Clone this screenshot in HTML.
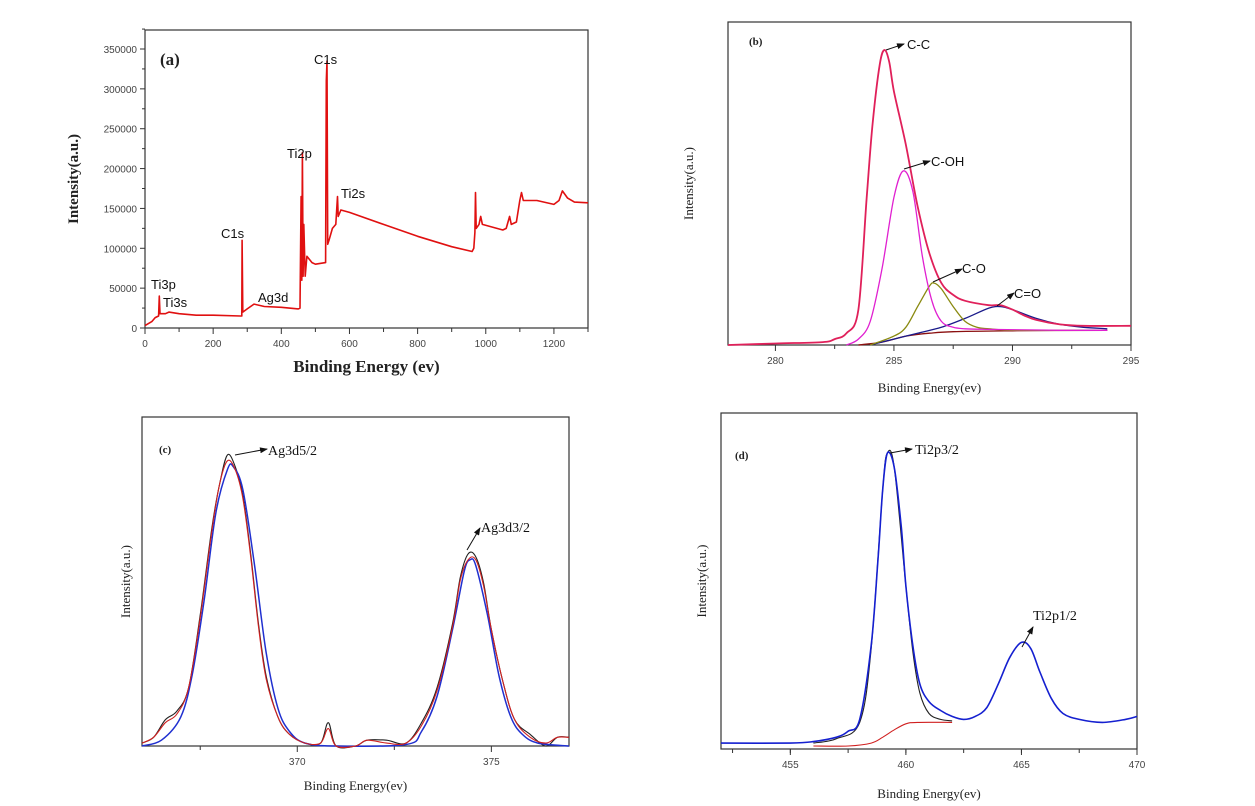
<!DOCTYPE html>
<html><head><meta charset="utf-8">
<style>
body{margin:0;background:#fff;}
svg{display:block;}
.tk{font-family:"Liberation Sans",sans-serif;font-size:10px;fill:#444;}
.tt{font-family:"Liberation Serif",serif;font-size:13px;fill:#222;}
.an{font-family:"Liberation Sans",sans-serif;font-size:13px;fill:#111;}
.anS{font-family:"Liberation Serif",serif;font-size:14px;fill:#111;}
</style></head>
<body>
<svg id="fig" width="1255" height="806" viewBox="0 0 1255 806">
<defs><marker id="ar" markerWidth="8" markerHeight="6" refX="7" refY="3" orient="auto"><path d="M0,0 L8,3 L0,6 z" fill="#111"/></marker></defs>
</svg>
<script>
// ---- Panel (a) survey data ----
const aEnergy = [0,20,30,40,42,44,60,70,100,150,200,280,284,285,287,300,320,350,400,450,455,458,460,462,464,466,470,475,490,500,530,532,534,536,540,550,560,565,567,575,600,700,800,900,960,965,968,970,972,980,985,990,1050,1060,1070,1075,1090,1100,1105,1110,1150,1200,1215,1225,1240,1260,1300];
const aIntensity = [3000,8000,13000,15000,40000,18000,18000,20000,18000,16000,16000,15000,15000,110000,20000,24000,30000,27000,26000,24000,25000,165000,60000,220000,65000,130000,65000,90000,82000,80000,82000,310000,335000,105000,110000,125000,130000,165000,140000,148000,145000,130000,115000,102000,96000,100000,120000,170000,125000,130000,140000,130000,123000,125000,140000,130000,133000,160000,170000,160000,160000,155000,160000,172000,163000,158000,157000];
const aXTicks = [0,200,400,600,800,1000,1200];
const aYTicks = [0,50000,100000,150000,200000,250000,300000,350000];

// ---- Panel (b) C1s ----
const bEnvE = [278,280,282,282.5,283,283.5,283.85,284.1,284.4,284.6,284.8,285,285.5,286,286.5,287,287.5,288,289,289.5,290,290.5,291,292,293,295];
const bEnvI = [0,0.5,1,2,4,12,50,75,95,100,96,86,68,47,31,21,17,15,13.5,13.5,12,10,8.5,7,6.5,6.5];
const bCOHE = [283,283.5,284,284.5,285,285.4,285.8,286.2,286.6,287,287.5,288,289,292,294];
const bCOHI = [0,2,8,26,50,59,52,30,15,8,6,5.5,5.3,5,5];
const bCOE = [284,285,285.5,286,286.5,286.7,287,287.5,288,288.5,289,290,293];
const bCOI = [0,3,6,13,20,21,19,13,8,6,5.5,5,5];
const bCdOE = [284,285,286,287,288,289,289.5,290,291,292,293,294];
const bCdOI = [0,2,4,6,9,12.5,13,12,9,7,6,5.5];
const bBaseE = [283.5,284.5,285.5,286.5,287.5,290,294];
const bBaseI = [0,1,3,4,4.5,4.8,5];
const bXTicks = [280,285,290,295];

// ---- Panel (c) Ag3d ----
const cE = [366,366.3,366.6,366.9,367.2,367.5,367.8,368,368.2,368.4,368.6,368.8,369,369.2,369.5,369.8,370.2,370.6,370.8,371,371.5,371.8,372.3,372.8,373.2,373.6,374,374.2,374.4,374.6,374.8,375,375.3,375.6,376,376.4,376.7,377];
const cRaw = [1,3,9,12,20,45,75,90,100,96,86,66,42,24,10,4,1,1,8,0,0,2,2,1,8,20,42,58,66,65,56,40,22,9,4,0,3,3];
const cFit = [1,3,8,11,20,44,74,90,98,95,85,65,41,23,10,4,1,1,6,0,0,2,1,1,7,19,41,57,64,64,55,40,22,9,3,1,3,3];
const cEnvE = [366,366.5,367,367.3,367.6,367.9,368.2,368.35,368.6,368.9,369.2,369.5,369.8,370.2,371,372.8,373.2,373.6,374,374.3,374.45,374.6,374.9,375.2,375.5,375.8,376.2,377];
const cEnvI = [0,2,10,25,50,80,95,96,88,62,32,13,5,1,0,0.5,5,17,40,60,64,62,45,24,10,4,1,0];
const cXTicks = [370,375];

// ---- Panel (d) Ti2p ----
const dE = [452,455,456,457,457.5,458,458.5,458.8,459,459.2,459.5,459.8,460,460.3,460.6,461,461.5,462,462.5,463,463.5,464,464.5,465,465.4,465.8,466.3,466.8,467.5,468.5,469.5,470];
const dI = [2,2,2.5,4,6,10,35,65,88,100,95,75,55,35,22,16,13,11,10,11,14,22,31,36,34,26,17,12,10,9,10,11];
const dFitE = [456,457,458,458.5,459,459.2,459.5,460,460.3,460.6,461,461.5,462];
const dFitI = [2,3.5,9,34,88,100,95,55,33,19,12,10,9.5];
const dBaseE = [456,457.5,458.5,459,459.5,460,460.5,462];
const dBaseI = [1,1,2,4,6.5,8.5,9,9];
const dXTicks = [455,460,465,470];

const NS="http://www.w3.org/2000/svg";
const svg=document.getElementById('fig');
function mk(tag,attrs,parent){const e=document.createElementNS(NS,tag);for(const k in attrs)e.setAttribute(k,attrs[k]);(parent||svg).appendChild(e);return e;}

function panel(p){
  const g=mk('g',{});
  
  
  const sx=v=>p.L+(v-p.x0)/(p.x1-p.x0)*(p.R-p.L);
  const sy=v=>p.y0px-(v-p.y0)*p.k;
  p.sx=sx;p.sy=sy;
  const fr=mk('rect',{x:p.L,y:p.T,width:p.R-p.L,height:p.B-p.T,fill:'none',stroke:'#333','stroke-width':1.2},g);
  
  
  for(let v=p.minorStart;v<=p.x1+1e-9;v+=p.minorStep){
    const t=mk('line',{x1:sx(v),x2:sx(v),y1:p.B,y2:p.B+4,stroke:'#333'},g);
    
    
  }
  p.xt.forEach(v=>{
    const t=mk('line',{x1:sx(v),x2:sx(v),y1:p.B,y2:p.B+6,stroke:'#333'},g);
    
    
    const l=mk('text',{x:sx(v),y:p.B+19,'text-anchor':'middle',class:'tk'},g);
    l.textContent=v;
    
    
  });
  if(p.yt){p.yt.forEach(v=>{
    const t=mk('line',{x1:p.L-5,x2:p.L,y1:sy(v),y2:sy(v),stroke:'#333'},g);
    
    
    const m=mk('line',{x1:p.L-3,x2:p.L,y1:sy(v+25000),y2:sy(v+25000),stroke:'#333'},g);
    
    
    const l=mk('text',{x:p.L-8,y:sy(v)+4,'text-anchor':'end',class:'tk'},g);
    l.textContent=v;
    
    
  });}
  const xt=mk('text',{x:(p.L+p.R)/2,y:p.xtY,'text-anchor':'middle',class:'tt',style:p.xtStyle||''},g);
  xt.textContent=p.xtitle;
  
  
  const yt=mk('text',{x:0,y:0,'text-anchor':'middle',class:'tt',transform:`translate(${p.ytX},${(p.T+p.B)/2}) rotate(-90)`,style:p.ytStyle||''},g);
  yt.textContent=p.ytitle;
  
  
  const pl=mk('text',{x:p.labX,y:p.labY,class:'tt',style:'font-weight:bold;font-size:'+(p.labSize||11)+'px'},g);
  pl.textContent=p.lab;
  
  
  p.g=g;
  return p;
}
function series(p,xs,ys,color,name,w,smooth){
  const pts=xs.map((x,i)=>[p.sx(x),p.sy(ys[i])]);
  let d='M'+pts[0][0].toFixed(1)+','+pts[0][1].toFixed(1);
  for(let i=0;i<pts.length-1;i++){
    if(!smooth){d+=' L'+pts[i+1][0].toFixed(1)+','+pts[i+1][1].toFixed(1);continue;}
    const p0=pts[Math.max(0,i-1)],p1=pts[i],p2=pts[i+1],p3=pts[Math.min(pts.length-1,i+2)];
    const c1=[p1[0]+(p2[0]-p0[0])/6,p1[1]+(p2[1]-p0[1])/6];
    const c2=[p2[0]-(p3[0]-p1[0])/6,p2[1]-(p3[1]-p1[1])/6];
    d+=` C${c1[0].toFixed(1)},${c1[1].toFixed(1)} ${c2[0].toFixed(1)},${c2[1].toFixed(1)} ${p2[0].toFixed(1)},${p2[1].toFixed(1)}`;
  }
  const e=mk('path',{d:d,fill:'none',stroke:color,'stroke-width':w||1.3,'stroke-linejoin':'round'},p.g);
  
  
}
function annot(p,x1,y1,x2,y2,tx,ty,txt,cls,name){
  const a=mk('line',{x1:x1,y1:y1,x2:x2,y2:y2,stroke:'#111','stroke-width':1,'marker-end':'url(#ar)'},p.g);
  
  
  const t=mk('text',{x:tx,y:ty,class:cls},p.g);
  t.textContent=txt;
  
  
}
function label(p,x,y,txt,name){
  const t=mk('text',{x:x,y:y,class:'an'},p.g);
  t.textContent=txt;
  
  
}

// (a)
const A=panel({name:'panel-a-survey',L:145,R:588,T:30,B:328,x0:0,x1:1300,y0:0,y0px:328,k:279/350000,xt:aXTicks,yt:aYTicks,minorStart:100,minorStep:200,xtitle:'Binding Energy (ev)',xtY:372,xtStyle:'font-size:17px;font-weight:bold',ytitle:'Intensity(a.u.)',ytX:78,ytStyle:'font-size:15px;font-weight:bold',lab:'(a)',labX:160,labY:65,labSize:17});
series(A,aEnergy,aIntensity,'#e01010','survey-spectrum',1.6,false);
label(A,314,64,'C1s','peak-label-c1s-main');
label(A,287,158,'Ti2p','peak-label-ti2p');
label(A,341,198,'Ti2s','peak-label-ti2s');
label(A,221,238,'C1s','peak-label-c1s');
label(A,151,289,'Ti3p','peak-label-ti3p');
label(A,163,307,'Ti3s','peak-label-ti3s');
label(A,258,302,'Ag3d','peak-label-ag3d');

// (b)
const Bp=panel({name:'panel-b-c1s',L:728,R:1131,T:22,B:345,x0:278,x1:295,y0:0,y0px:345,k:2.95,xt:bXTicks,minorStart:282.5,minorStep:5,xtitle:'Binding Energy(ev)',xtY:392,ytitle:'Intensity(a.u.)',ytX:693,lab:'(b)',labX:749,labY:45});
series(Bp,bBaseE,bBaseI,'#8b1010','baseline-line',1.3,true);
series(Bp,bCdOE,bCdOI,'#1a1a8a','c-double-o-fit',1.3,true);
series(Bp,bCOE,bCOI,'#8a8a10','c-o-fit',1.3,true);
series(Bp,bCOHE,bCOHI,'#e020d0','c-oh-fit',1.3,true);
series(Bp,bEnvE,bEnvI,'#e0205a','c1s-envelope',1.8,true);
annot(Bp,886,50,904,44,907,49,'C-C','an','annot-c-c');
annot(Bp,904,169,930,161,931,166,'C-OH','an','annot-c-oh');
annot(Bp,933,282,962,269,962,273,'C-O','an','annot-c-o');
annot(Bp,997,306,1014,293,1014,298,'C=O','an','annot-c-double-o');

// (c)
const C=panel({name:'panel-c-ag3d',L:142,R:569,T:417,B:746,x0:366,x1:377,y0:0,y0px:746,k:2.91,xt:cXTicks,minorStart:367.5,minorStep:5,xtitle:'Binding Energy(ev)',xtY:790,ytitle:'Intensity(a.u.)',ytX:130,lab:'(c)',labX:159,labY:453});
series(C,cE,cRaw,'#222','ag3d-raw',1.1,true);
series(C,cEnvE,cEnvI,'#2030d0','ag3d-fit-blue',1.5,true);
series(C,cE,cFit,'#d02020','ag3d-fit-red',1.1,true);
annot(C,235,455,267,449,268,455,'Ag3d5/2','anS','annot-ag3d52');
annot(C,467,550,480,528,481,532,'Ag3d3/2','anS','annot-ag3d32');

// (d)
const D=panel({name:'panel-d-ti2p',L:721,R:1137,T:413,B:749,x0:452,x1:470,y0:0,y0px:749,k:2.96,xt:dXTicks,minorStart:452.5,minorStep:2.5,xtitle:'Binding Energy(ev)',xtY:798,ytitle:'Intensity(a.u.)',ytX:706,lab:'(d)',labX:735,labY:459});
series(D,dBaseE,dBaseI,'#d02020','ti2p-baseline',1.1,true);
series(D,dFitE,dFitI,'#222','ti2p-fit',1.1,true);
series(D,dE,dI,'#1520d0','ti2p-spectrum',1.6,true);
annot(D,890,453,912,449,915,454,'Ti2p3/2','anS','annot-ti2p32');
annot(D,1022,647,1033,627,1033,620,'Ti2p1/2','anS','annot-ti2p12');
</script>
</body></html>
